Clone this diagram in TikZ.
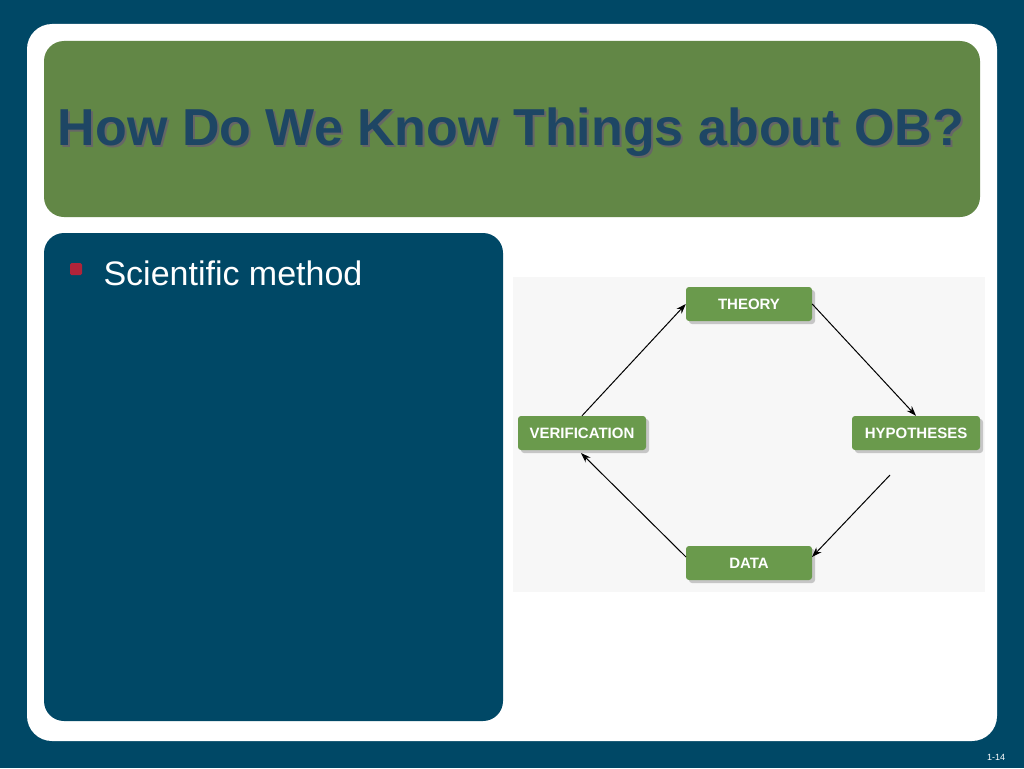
\documentclass[tikz,border=0pt]{standalone}
\usepackage{fontspec}
\setmainfont{Liberation Sans}
\usetikzlibrary{arrows.meta,shadows}
\definecolor{bgblue}{RGB}{0,72,102}
\definecolor{titlegreen}{RGB}{98,135,70}
\definecolor{titletext}{RGB}{30,70,100}
\definecolor{nodegreen}{RGB}{106,154,76}
\definecolor{bulletred}{RGB}{176,36,58}
\tikzset{
  cyc/.style={fill=nodegreen, text=white, font=\bfseries\fontsize{15}{15}\selectfont, minimum height=34, rounded corners=3, inner sep=0,
    drop shadow={shadow xshift=3pt, shadow yshift=-3pt, fill=black!35, opacity=0.6}},
  arr/.style={-{Stealth[length=10pt,width=7pt]}, line width=1pt}
}
\begin{document}
\begin{tikzpicture}[x=1pt,y=-1pt]
\useasboundingbox (0,0) rectangle (1024,768);
\fill[bgblue] (0,0) rectangle (1024,768);
\fill[white,rounded corners=25] (27,24) rectangle (997,741);
\fill[titlegreen,rounded corners=20] (44,41) rectangle (980,217);
\node[text=black!60, font=\bfseries\fontsize{52}{52}\selectfont] at (513,134) {How Do We Know Things about OB?};
\node (title) [text=titletext, font=\bfseries\fontsize{52}{52}\selectfont] at (511,132) {How Do We Know Things about OB?};
\fill[bgblue,rounded corners=20] (44,233) rectangle (503,721);
\fill[bulletred,rounded corners=1.5] (70,263) rectangle (82,275);
\node (bullet) [anchor=west, text=white, font=\fontsize{34}{34}\selectfont] at (100,273) {Scientific method};
\fill[black!3] (513,277) rectangle (985,592);
\node (theory) [cyc, minimum width=126] at (749,304) {THEORY};
\node (verif) [cyc, minimum width=128] at (582,433) {VERIFICATION};
\node (hyp) [cyc, minimum width=128] at (916,433) {HYPOTHESES};
\node (data) [cyc, minimum width=126] at (749,563) {DATA};
\coordinate (h1) at (890,475);
\coordinate (d1) at (812,557);
\coordinate (d2) at (686,557);
\coordinate (v2) at (581,453);
\draw[arr] (verif.north) -- (theory.west);
\draw[arr] (theory.east) -- (hyp.north);
\draw[arr] (h1) -- (d1);
\draw[arr] (d2) -- (v2);
\node (pg) [text=white, font=\fontsize{9}{9}\selectfont] at (996,757) {1-14};
\end{tikzpicture}
\end{document}
